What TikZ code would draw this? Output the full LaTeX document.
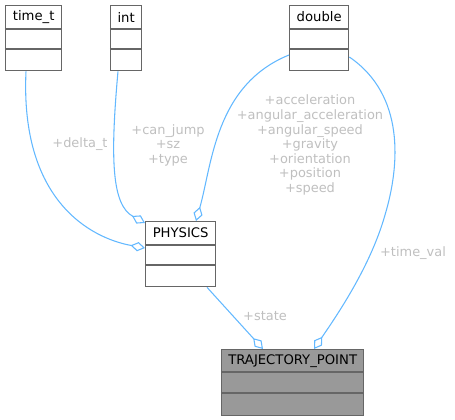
\documentclass[tikz,border=0pt]{standalone}
\usepackage{fontspec}
\setmainfont{DejaVu Sans}
\usetikzlibrary{arrows.meta,calc}
\definecolor{edgeblue}{HTML}{63B8FF}
\definecolor{boxgray}{HTML}{666666}
\definecolor{labelgray}{HTML}{BFBFBF}
\definecolor{fillgray}{HTML}{999999}
\tikzset{
  cls/.style={draw=boxgray, line width=1pt, fill=white, minimum height=48.75pt, inner sep=0pt, anchor=north west},
  ttl/.style={font=\fontsize{9.9}{11}\selectfont, text=black, anchor=center},
  sep/.style={draw=boxgray, line width=1pt},
  rel/.style={draw=edgeblue, line width=0.8pt, -{Diamond[open, fill=white, length=11pt, width=7pt]}},
  lbl/.style={font=\fontsize{9.7}{10.9}\selectfont, text=labelgray, align=center}
}
\newcommand{\classbox}[5]{%
  % name, x, y, width, title
  \node[cls, minimum width=#4*0.75pt] (#1) at (#2,#3) {};
  \node[ttl] (#1t) at ($(#1.north)+(0,12)$) {#5};
  \draw[sep] ($(#1.north west)+(0,24)$) -- ($(#1.north east)+(0,24)$);
  \draw[sep] ($(#1.north west)+(0,44)$) -- ($(#1.north east)+(0,44)$);
}
\begin{document}
\begin{tikzpicture}[x=0.75pt,y=-0.75pt]
\useasboundingbox (0,0) rectangle (455,420);
\classbox{timet}{5}{5}{56}{time\_t}
\classbox{int}{110}{5}{31}{int}
\classbox{double}{289}{5}{59}{double}
\classbox{physics}{145}{221}{70}{PHYSICS}
\node[cls, fill=fillgray, minimum width=142*0.75pt, minimum height=66*0.75pt] (traj) at (221,349) {};
\node[ttl] (trajt) at ($(traj.north)+(0,12)$) {TRAJECTORY\_POINT};
\draw[sep] ($(traj.north west)+(0,23)$) -- ($(traj.north east)+(0,23)$);
\draw[sep] ($(traj.north west)+(0,44)$) -- ($(traj.north east)+(0,44)$);

\coordinate (a1) at ($(timet.south west)+(21,0)$);
\coordinate (a2) at ($(physics.north west)+(0,27)$);
\draw[rel] (a1) .. controls (20,200) and (90,238) .. (a2);

\coordinate (b1) at ($(int.south west)+(8,0)$);
\coordinate (b2) at ($(physics.north west)+(0,2)$);
\draw[rel] (b1) .. controls (110,160) and (112,205) .. (b2);

\coordinate (c1) at ($(double.north west)+(0,50)$);
\coordinate (c2) at ($(physics.north west)+(51,0)$);
\draw[rel] (c1) .. controls (215,85) and (212,165) .. (c2);

\coordinate (d1) at ($(double.north east)+(0,52)$);
\coordinate (d2) at ($(traj.north west)+(93,0)$);
\draw[rel] (d1) .. controls (405,95) and (400,165) .. (385,215) .. controls (370,268) and (335,318) .. (d2);

\coordinate (e1) at ($(physics.south west)+(62,0)$);
\coordinate (e2) at ($(traj.north west)+(42,0)$);
\draw[rel] (e1) -- (e2);

\node[lbl] (l1) at (80,144) {+delta\_t};
\node[lbl] (l2) at (168,145) {+can\_jump\\+sz\\+type};
\node[lbl] (l3) at (310,145) {+acceleration\\+angular\_acceleration\\+angular\_speed\\+gravity\\+orientation\\+position\\+speed};
\node[lbl] (l4) at (413,253) {+time\_val};
\node[lbl] (l5) at (265,316) {+state};
\end{tikzpicture}
\end{document}
